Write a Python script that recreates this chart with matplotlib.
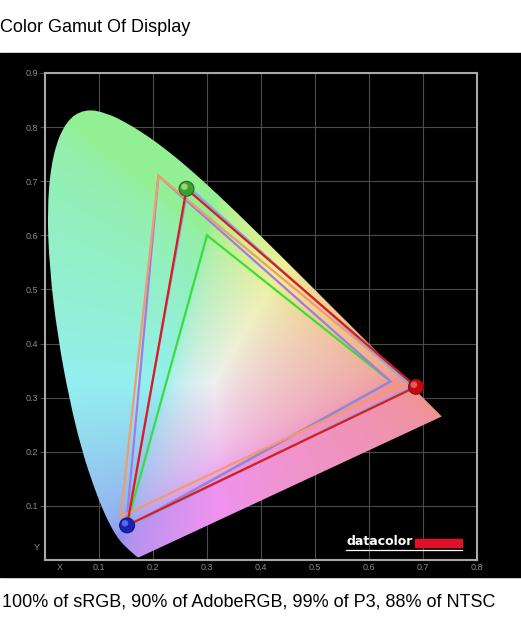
import numpy as np
import matplotlib.pyplot as plt
import matplotlib.transforms as mtransforms
from matplotlib.patches import PathPatch, Rectangle
from matplotlib.path import Path
from matplotlib.lines import Line2D

plt.rcParams['font.family'] = ['Liberation Sans', 'DejaVu Sans']

# CIE 1931 spectral locus (380..700 nm)
locus_x = [0.1741, 0.1733, 0.1726, 0.1714, 0.1689, 0.1644, 0.1566, 0.1440, 0.1355,
           0.1241, 0.1096, 0.0913, 0.0687, 0.0454, 0.0235, 0.0082, 0.0039, 0.0139,
           0.0389, 0.0743, 0.1142, 0.1547, 0.1929, 0.2296, 0.2658, 0.3016, 0.3373,
           0.3731, 0.4087, 0.4441, 0.4788, 0.5125, 0.5448, 0.5752, 0.6029, 0.6270,
           0.6658, 0.6915, 0.7079, 0.7190, 0.7260, 0.7300, 0.7334, 0.7347]
locus_y = [0.0050, 0.0048, 0.0048, 0.0051, 0.0069, 0.0109, 0.0177, 0.0297, 0.0399,
           0.0578, 0.0868, 0.1327, 0.2007, 0.2950, 0.4127, 0.5384, 0.6548, 0.7502,
           0.8120, 0.8338, 0.8262, 0.8059, 0.7816, 0.7543, 0.7243, 0.6923, 0.6589,
           0.6245, 0.5896, 0.5547, 0.5202, 0.4866, 0.4544, 0.4242, 0.3965, 0.3725,
           0.3340, 0.3083, 0.2920, 0.2809, 0.2740, 0.2700, 0.2666, 0.2653]

# gamut triangles (R, G, B)
srgb_x = [0.64, 0.30, 0.15]
srgb_y = [0.33, 0.60, 0.06]
adobe_x = [0.64, 0.21, 0.15]
adobe_y = [0.33, 0.71, 0.06]
ntsc_x = [0.67, 0.21, 0.14]
ntsc_y = [0.33, 0.71, 0.08]
p3_x = [0.68, 0.265, 0.15]
p3_y = [0.32, 0.69, 0.06]
disp_x = [0.687, 0.262, 0.152]
disp_y = [0.320, 0.686, 0.064]

x_ticks = [0.1, 0.2, 0.3, 0.4, 0.5, 0.6, 0.7, 0.8]
y_ticks = [0.1, 0.2, 0.3, 0.4, 0.5, 0.6, 0.7, 0.8, 0.9]

fig = plt.figure(figsize=(5.21, 6.19), dpi=100)
fig.add_artist(Rectangle((0, 0.0679), 1, 0.8465, transform=fig.transFigure,
                         color='black', zorder=-1))

ax = fig.add_axes([0.0864, 0.0953, 0.8292, 0.7868])
ax.set_facecolor('black')
ax.set_xlim(0, 0.8)
ax.set_ylim(0, 0.9)

# chromaticity colours (pastel)
gx = np.linspace(0, 0.8, 400)
gy = np.linspace(0.002, 0.9, 450)
X, Y = np.meshgrid(gx, gy)
xyz = np.stack([X / Y, np.ones_like(X), (1 - X - Y) / Y])
M = np.array([[3.2406, -1.5372, -0.4986],
              [-0.9689, 1.8758, 0.0415],
              [0.0557, -0.2040, 1.0570]])
rgb = np.einsum('ij,jkl->kli', M, xyz)
rgb = np.clip(rgb, 0, None)
rgb = rgb / (rgb.max(axis=2, keepdims=True) + 1e-9)
rgb = rgb ** (1 / 2.2)
rgb = 0.58 + 0.36 * rgb

im = ax.imshow(rgb, extent=[0, 0.8, 0, 0.9], origin='lower', aspect='auto',
               interpolation='bilinear', zorder=1)

# smooth outline through the locus points
pts = np.column_stack([locus_x, locus_y])
verts = [pts[0]]
codes = [Path.MOVETO]
for i in range(1, len(pts) - 1):
    mid = (pts[i] + pts[i + 1]) / 2 if i < len(pts) - 2 else pts[i + 1]
    verts += [pts[i], mid]
    codes += [Path.CURVE3, Path.CURVE3]
verts += [pts[0], pts[0]]
codes += [Path.LINETO, Path.CLOSEPOLY]
horse = PathPatch(Path(verts, codes), facecolor='none', edgecolor='none')
ax.add_patch(horse)
im.set_clip_path(horse)

ax.set_xticks(x_ticks)
ax.set_xticklabels([f'{v:.1f}' for v in x_ticks])
ax.set_yticks(y_ticks)
ax.set_yticklabels([f'{v:.1f}' for v in y_ticks])
ax.grid(True, color='#4c4c4c', lw=0.8)
ax.set_axisbelow(True)
ax.tick_params(axis='x', length=0, pad=2.5, labelsize=6.5, labelcolor='#8a8a8a')
ax.tick_params(axis='y', length=3.6, width=0.8, color='#4c4c4c', pad=1.2,
               labelsize=6.5, labelcolor='#8a8a8a')
for s in ax.spines.values():
    s.set_color('#a8a8a8')
    s.set_linewidth(1.5)

ax.annotate('X', xy=(0.028, 0), xycoords=ax.get_xaxis_transform(),
            xytext=(0, -5.6), textcoords='offset points', ha='center', va='center',
            fontsize=6.5, color='#8a8a8a')
ax.annotate('Y', xy=(0, 0.024), xycoords=ax.get_yaxis_transform(),
            xytext=(-4, 0), textcoords='offset points', ha='right', va='center',
            fontsize=6.5, color='#8a8a8a')

tri = [(srgb_x, srgb_y, '#3ddc3d'),
       (adobe_x, adobe_y, '#a07ce0'),
       (ntsc_x, ntsc_y, '#f39a6e'),
       (p3_x, p3_y, '#80a8ec'),
       (disp_x, disp_y, '#e01a1a')]
for i, (tx, ty, col) in enumerate(tri):
    ax.fill(tx, ty, facecolor='none', edgecolor=col, lw=1.6, zorder=3 + i * 0.1,
            joinstyle='miter')

# glossy primaries of the display
dot_x = [disp_x[1], disp_x[2], disp_x[0]]
dot_y = [disp_y[1], disp_y[2], disp_y[0]]
ax.scatter(dot_x, dot_y, s=115, c=['#3f9e2c', '#1822b8', '#c40c0c'],
           edgecolors=['#2a6a20', '#101870', '#801010'], linewidths=0.8, zorder=5)
shift = ax.transData + mtransforms.ScaledTranslation(-1.5 / 72, 1.5 / 72,
                                                     fig.dpi_scale_trans)
ax.scatter(dot_x, dot_y, s=22, c=['#a8e890', '#6a78f0', '#f07070'], linewidths=0,
           zorder=6, alpha=0.8, transform=shift)

# datacolor logo
ax.text(0.697, 0.037, 'datacolor', transform=ax.transAxes, color='white',
        fontweight='bold', fontsize=9, va='center', ha='left', family='DejaVu Sans')
ax.add_patch(Rectangle((0.856, 0.027), 0.109, 0.016, transform=ax.transAxes,
                       color='#e0102a', zorder=6))
ax.add_line(Line2D([0.697, 0.965], [0.021, 0.021], transform=ax.transAxes,
                   color='white', lw=0.9, zorder=6))

fig.text(0.0, 0.956, 'Color Gamut Of Display', fontsize=13, va='center', ha='left')
fig.text(0.004, 0.027, '100% of sRGB, 90% of AdobeRGB, 99% of P3, 88% of NTSC',
         fontsize=13, va='center', ha='left')

fig.savefig('out.png', dpi=100)
